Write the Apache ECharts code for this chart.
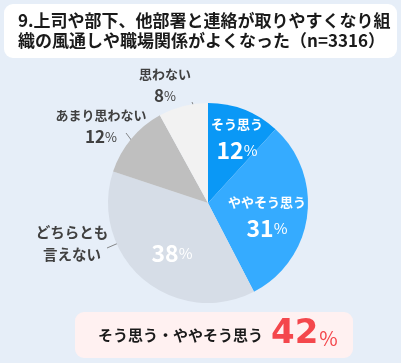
<!DOCTYPE html>
<html><head><meta charset="utf-8">
<script src="https://cdn.jsdelivr.net/npm/echarts@6/dist/echarts.min.js"></script>
<style>html,body{margin:0;padding:0;background:#e6eef8;} #c{width:401px;height:363px;}</style>
</head><body><div id="c"></div>
<script>
// ---- data ----
const titleLines = ['9.上司や部下、他部署と連絡が取りやすくなり組', '織の風通しや職場関係がよくなった（n=3316）'];
const categories = ['そう思う', 'ややそう思う', 'どちらとも言えない', 'あまり思わない', '思わない'];
const labelNames = ['そう思う', 'ややそう思う', 'どちらとも\n言えない', 'あまり思わない', '思わない'];
const shares = [11.8, 30.6, 37.7, 11.9, 8.0];

// ---- styles ----
const palette = ['#0a98f6', '#35abff', '#d6dde7', '#bfbfbf', '#f2f2f2'];
const FONT = '"Noto Sans CJK JP", "Noto Sans", sans-serif';
const CENTER = [208, 203];
const RADIUS = 100;
// label anchor spots (centers) and guide lines
const innerSpots = {0: [237, 139], 1: [267, 217], 2: [172, 253], 3: [101, 127], 4: [165, 86]};
const outerSpots = {2: [72, 243]};
const linePts = {
  3: [[126, 133], [135, 145]],
  4: [[192, 102], [197, 114]],
  2: [[107, 248], [130, 238]]
};

const chart = echarts.init(document.getElementById('c'), null, {renderer: 'canvas'});

const mainData = categories.map((c, i) => ({
  name: c, value: shares[i],
  itemStyle: {color: palette[i]},
  label: {position: i <= 2 ? 'inside' : 'outside'},
  labelLine: {show: i >= 3}
}));
const overlayData = categories.map((c, i) => ({
  name: c, value: shares[i],
  itemStyle: {color: 'rgba(0,0,0,0)'},
  label: {show: i === 2, position: 'outside'},
  labelLine: {show: i === 2}
}));

const lineStyle = {color: '#6b6b6b', width: 0.8};
const richInner = {
  n: {fontSize: 13, fontWeight: 'bold', color: '#fff', lineHeight: 22, fontFamily: FONT},
  p: {fontSize: 23, fontWeight: 'bold', color: '#fff', lineHeight: 30, fontFamily: FONT},
  u: {fontSize: 15, color: '#fff', lineHeight: 30, fontFamily: FONT},
  on: {fontSize: 13, fontWeight: 'bold', color: '#404040', lineHeight: 20, fontFamily: FONT},
  op: {fontSize: 17, fontWeight: 'bold', color: '#404040', lineHeight: 24, fontFamily: FONT},
  ou: {fontSize: 13, color: '#404040', lineHeight: 24, fontFamily: FONT}
};

function layoutFn(spots) {
  return function (params) {
    const s = spots[params.dataIndex];
    if (!s) return {};
    const o = {x: s[0], y: s[1], align: 'center', verticalAlign: 'middle'};
    if (linePts[params.dataIndex]) o.labelLinePoints = linePts[params.dataIndex];
    return o;
  };
}

const sumTop = Math.round(shares[0] + shares[1]);

chart.setOption({
  backgroundColor: '#e6eef8',
  animation: false,
  title: {
    text: titleLines.join('\n'), left: 18, top: 11, padding: 0, z: 10,
    textStyle: {fontSize: 17, fontWeight: 'bold', lineHeight: 19.5, color: '#1a1a1a', fontFamily: FONT}
  },
  graphic: [
    {type: 'rect', z: 1, shape: {x: 4, y: 4, width: 393, height: 54, r: 9}, style: {fill: '#ffffff'}},
    {type: 'rect', z: 1, shape: {x: 75, y: 312, width: 278, height: 46, r: 9}, style: {fill: '#fff1f1'}},
    {type: 'text', z: 2, x: 98, y: 334, style: {
      text: '{a|' + categories[0] + '・' + categories[1] + '}{b|' + sumTop + '}{c|%}',
      verticalAlign: 'middle',
      rich: {
        a: {fontSize: 15, fontWeight: 'bold', fill: '#1a1a1a', fontFamily: FONT, padding: [3, 0, 0, 0]},
        b: {fontSize: 34, fontWeight: 'bold', fill: '#f4474c', fontFamily: '"DejaVu Sans", sans-serif', padding: [0, 0, 0, 8]},
        c: {fontSize: 20, fill: '#f4474c', fontFamily: FONT, padding: [8, 0, 0, 1]}
      }
    }}
  ],
  series: [
    {
      type: 'pie', center: CENTER, radius: [0, RADIUS], startAngle: 90, clockwise: true,
      avoidLabelOverlap: false, silent: true,
      itemStyle: {borderWidth: 0},
      data: mainData,
      label: {
        show: true,
        formatter: function (p) {
          const pct = Math.round(p.value);
          const i = p.dataIndex;
          if (i <= 1) return '{n|' + labelNames[i] + '}\n{p|' + pct + '}{u|%}';
          if (i === 2) return '{p|' + pct + '}{u|%}';
          return '{on|' + labelNames[i] + '}\n{op|' + pct + '}{ou|%}';
        },
        rich: richInner
      },
      labelLine: {show: true, lineStyle: lineStyle, length: 5, length2: 5},
      labelLayout: layoutFn(innerSpots)
    },
    {
      type: 'pie', center: CENTER, radius: [0, RADIUS], startAngle: 90, clockwise: true,
      avoidLabelOverlap: false, silent: true,
      itemStyle: {borderWidth: 0},
      data: overlayData,
      label: {
        formatter: function (p) {
          return labelNames[p.dataIndex].split('\n').map(t => '{ob|' + t + '}').join('\n');
        },
        rich: {ob: {fontSize: 14.5, fontWeight: 'bold', color: '#404040', lineHeight: 22, fontFamily: FONT}}
      },
      labelLine: {lineStyle: lineStyle, length: 5, length2: 5},
      labelLayout: layoutFn(outerSpots)
    }
  ]
});
</script>
</body></html>
